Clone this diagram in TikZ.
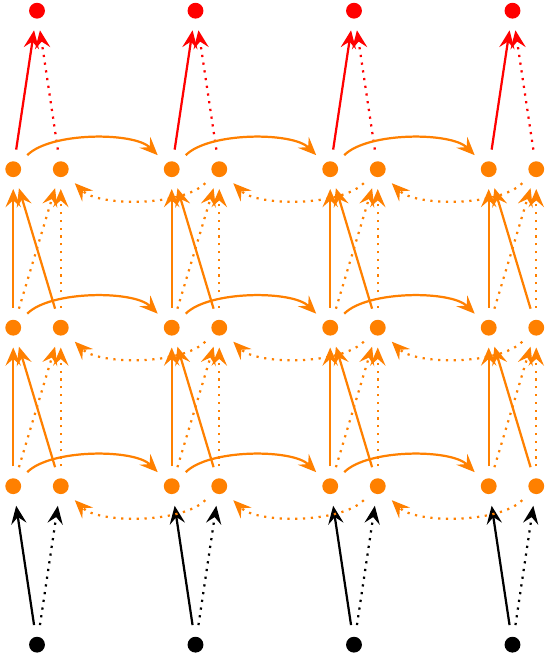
\documentclass[tikz,border=0pt]{standalone}
\usetikzlibrary{arrows.meta}
\begin{document}
\begin{tikzpicture}[>={Stealth[length=6.5pt,width=5.5pt,inset=2.4pt]},thick,
  dot/.style={circle,fill,inner sep=0pt,minimum size=.2cm,outer sep=.15cm},
  arc/.style={bend left=45,looseness=.65}]
\useasboundingbox (-.467,-.206) rectangle (6.473,8.135);
% nodes: input, output, forward and backward cells
\foreach \i in {1,...,4}{
  \node[dot] (x\i) at (2*\i-2,0){};
  \node[dot,red] (y\i) at (2*\i-2,8){};
  \foreach \j in {1,2,3}{
    \node[dot,orange] (f\i\j) at (2*\i-2.3,2*\j){};
    \node[dot,orange] (b\i\j) at (2*\i-1.7,2*\j){};
  }
  \draw[->] (x\i)--(f\i1);
  \draw[->,dotted] (x\i)--(b\i1);
  \draw[->,red] (f\i3)--(y\i);
  \draw[->,red,dotted] (b\i3)--(y\i);
  % between layers
  \foreach \j [count=\k from 2] in {1,2}{
    \draw[->,orange] (f\i\j)--(f\i\k);
    \draw[->,orange] (b\i\j)--(f\i\k);
    \draw[->,orange,dotted] (f\i\j)--(b\i\k);
    \draw[->,orange,dotted] (b\i\j)--(b\i\k);
  }
}
% along the sequence
\foreach \i [count=\k from 2] in {1,2,3}{
  \foreach \j in {1,2,3}{
    \draw[->,orange] (f\i\j) to[arc] (f\k\j);
    \draw[->,orange,dotted] (b\k\j) to[arc] (b\i\j);
  }
}
\end{tikzpicture}
\end{document}
